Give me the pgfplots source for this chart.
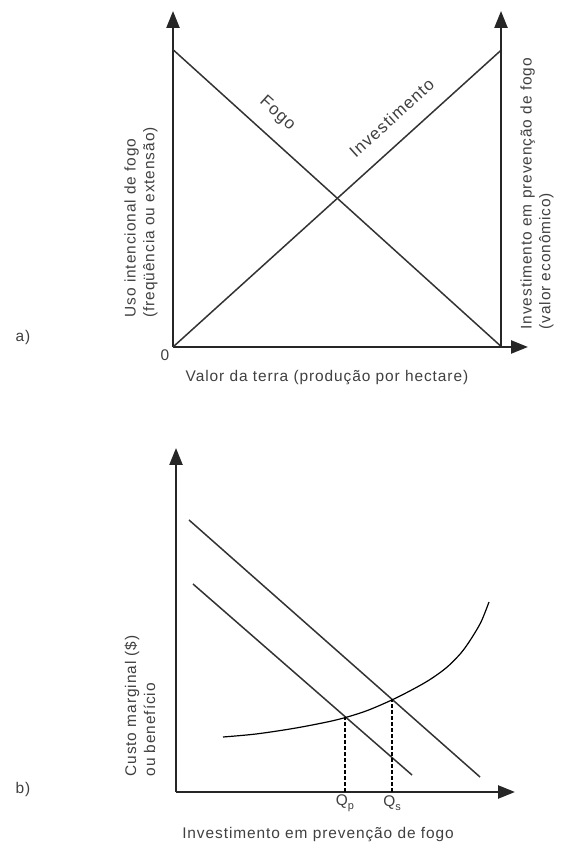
\documentclass[border=0pt]{standalone}
\usepackage{fontspec}
\setmainfont{Liberation Sans}[LetterSpace=6]
\usepackage{pgfplots}
\pgfplotsset{compat=1.18}
\usetikzlibrary{arrows.meta}

\tikzset{axisline/.style={draw=black!85, line width=2.4bp, -{Triangle[length=17bp,width=13bp]}}}
\pgfplotsset{
  sketch/.style={
    scale only axis, anchor=south west, clip=false,
    axis lines=left, ticks=none,
    axis line style={axisline},
    cycle list={black!80},
    every axis plot/.append style={line width=1.5bp, no marks},
  },
}
\newcommand{\sub}[1]{\raisebox{-0.45ex}{\fontsize{11}{11}\selectfont #1}}

\begin{document}
\begin{tikzpicture}[x=1bp, y=1bp,
  lab/.style={font=\fontsize{15.5}{19}\selectfont, text=black!75}]
\path[use as bounding box] (0,0) rectangle (562,850);

% ---- a) ----
\begin{axis}[sketch, at={(173bp,503bp)}, width=355bp, height=336bp,
  xmin=0, xmax=1.08, ymin=0, ymax=1.13]
\addplot coordinates {(0,1) (1,0)};   % Fogo
\addplot coordinates {(0,0) (1,1)};   % Investimento
\node[lab, font=\fontsize{17}{20}\selectfont, rotate=-42] at (axis cs:0.317,0.785) {Fogo};
\node[lab, font=\fontsize{17}{20}\selectfont, rotate=42] at (axis cs:0.665,0.77) {Investimento};
\end{axis}
% right axis of a)
\begin{axis}[sketch, at={(173bp,503bp)}, width=328bp, height=336bp,
  xmin=0, xmax=1, ymin=0, ymax=1.13, axis x line=none, axis y line=right,
  axis line style={axisline}, y axis line style={axisline}]
\addplot[draw=none] coordinates {(0,0)};
\end{axis}

\node[lab, rotate=90, anchor=west, align=left] at (141,529)
  {Uso intencional de fogo\\(freqüência ou extensão)};
\node[lab, rotate=90, anchor=west, align=left] at (537,517)
  {Investimento em prevenção de fogo\\(valor econômico)};
\node[lab] at (165,495) {0};
\node[lab] at (327,472) {Valor da terra (produção por hectare)};
\node[lab] at (23,512) {a)};

% ---- b) ----
\begin{axis}[sketch, at={(176bp,58bp)}, width=339bp, height=344bp,
  xmin=0, xmax=33.9, ymin=0, ymax=34.4]
\addplot coordinates {(1.3,27.2) (30.4,1.5)};
\addplot coordinates {(1.7,20.8) (23.6,1.7)};
\addplot[smooth, line width=1.2bp] coordinates {(4.7,5.5) (8,5.8) (12,6.4) (16,7.2) (19,8.1) (22,9.4) (25,11.0) (27,12.4) (28.5,13.9) (29.5,15.3) (30.5,17.0) (31.3,19.0)};
\addplot[line width=1.4bp, dash pattern=on 4bp off 2bp] coordinates {(16.9,0) (16.9,7.45)};
\addplot[line width=1.4bp, dash pattern=on 4bp off 2bp] coordinates {(21.6,0) (21.6,9.25)};
\node[lab] at (axis cs:16.9,-1.1) {Q\sub{p}};
\node[lab] at (axis cs:21.6,-1.1) {Q\sub{s}};
\end{axis}

\node[lab, rotate=90, anchor=west, align=left] at (140,70)
  {Custo marginal (\$)\\ou benefício};
\node[lab] at (318,15) {Investimento em prevenção de fogo};
\node[lab] at (23,60) {b)};
\end{tikzpicture}
\end{document}
